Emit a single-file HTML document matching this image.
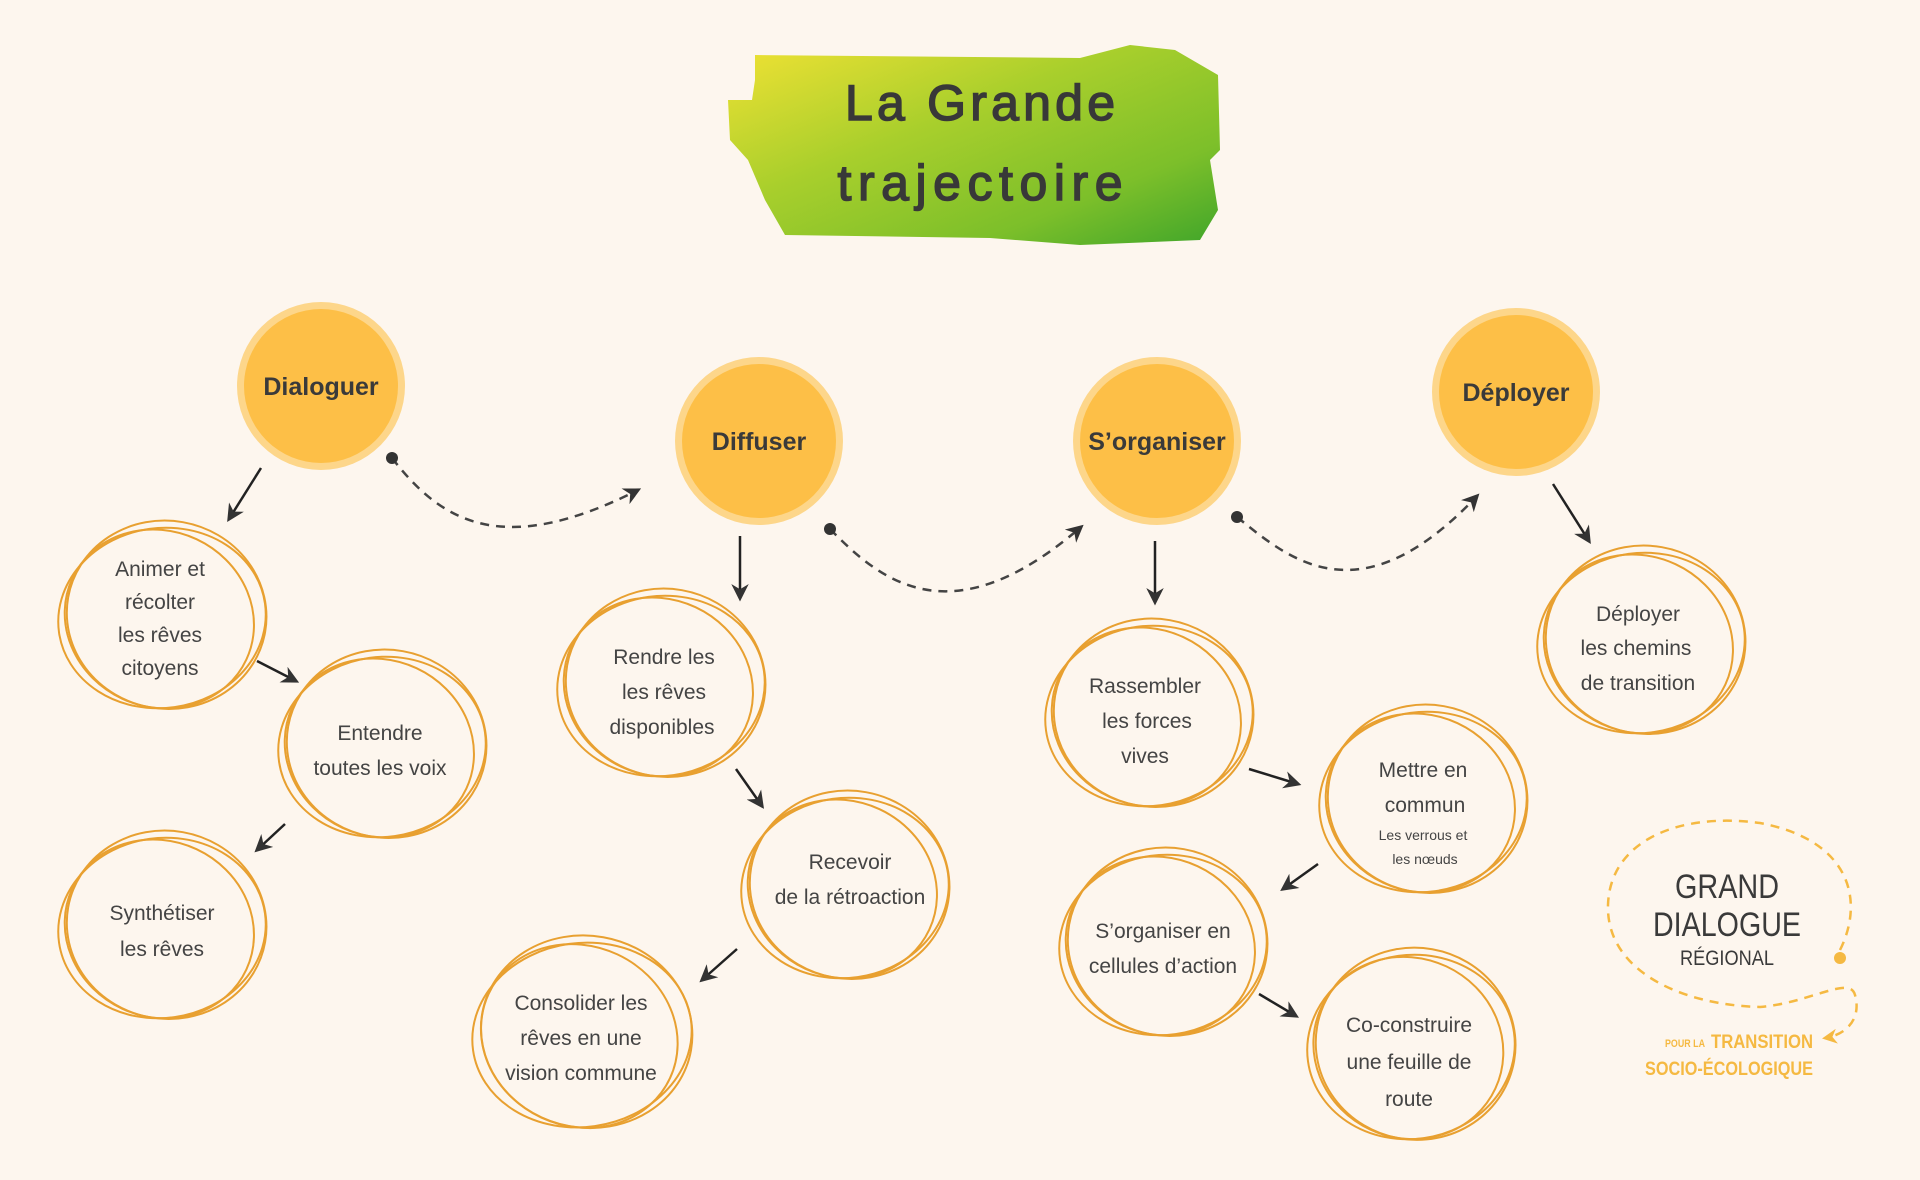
<!DOCTYPE html>
<html><head><meta charset="utf-8"><style>
html,body{margin:0;padding:0;background:#fdf6ee;}
svg{display:block}
text{font-family:"Liberation Sans",sans-serif;}
</style></head><body>
<svg width="1920" height="1180" viewBox="0 0 1920 1180" xmlns="http://www.w3.org/2000/svg">
<defs>
<linearGradient id="g" x1="0" y1="0" x2="1" y2="1">
<stop offset="0" stop-color="#f2e234"/><stop offset="0.4" stop-color="#a9cf2c"/><stop offset="0.75" stop-color="#7cbf2a"/><stop offset="1" stop-color="#3fa52a"/></linearGradient>
<marker id="ah" viewBox="0 0 10 10" refX="8" refY="5" markerWidth="7" markerHeight="7" orient="auto"><path d="M0,0 L10,5 L0,10 L3,5 z" fill="#333"/></marker>
<marker id="oa" viewBox="0 0 10 10" refX="8" refY="5" markerWidth="6" markerHeight="6" orient="auto"><path d="M0,0 L10,5 L0,10 L3,5 z" fill="#f5b942"/></marker>
</defs>
<rect width="1920" height="1180" fill="#fdf6ee"/>
<path d="M755,55 L1080,58 L1130,45 L1175,50 L1218,75 L1220,150 L1210,160 L1218,210 L1200,240 L1080,245 L990,238 L785,235 L765,200 L748,160 L730,140 L728,100 L752,100 L755,80 Z" fill="url(#g)"/>
<text x="980" y="120" text-anchor="middle" font-size="50" fill="#383838" stroke="#383838" stroke-width="1.5" textLength="270">La Grande</text>
<text x="980" y="200" text-anchor="middle" font-size="50" fill="#383838" stroke="#383838" stroke-width="1.5" textLength="285">trajectoire</text>

<g font-weight="bold" font-size="25" fill="#3a3a3a" text-anchor="middle">
<circle cx="321" cy="386" r="84" fill="#fdd68a"/><circle cx="321" cy="386" r="77" fill="#fdbf47"/><text x="321" y="395">Dialoguer</text>
<circle cx="759" cy="441" r="84" fill="#fdd68a"/><circle cx="759" cy="441" r="77" fill="#fdbf47"/><text x="759" y="450">Diffuser</text>
<circle cx="1157" cy="441" r="84" fill="#fdd68a"/><circle cx="1157" cy="441" r="77" fill="#fdbf47"/><text x="1157" y="450">S’organiser</text>
<circle cx="1516" cy="392" r="84" fill="#fdd68a"/><circle cx="1516" cy="392" r="77" fill="#fdbf47"/><text x="1516" y="401">Déployer</text>
</g>

<g fill="none" stroke="#444" stroke-width="2.5" stroke-dasharray="9,7">
<path d="M392,458 C440,520 500,560 638,490" marker-end="url(#ah)"/>
<path d="M830,529 C880,580 950,640 1081,527" marker-end="url(#ah)"/>
<path d="M1237,517 C1290,560 1360,620 1477,496" marker-end="url(#ah)"/>
</g>
<g fill="#333"><circle cx="392" cy="458" r="6"/><circle cx="830" cy="529" r="6"/><circle cx="1237" cy="517" r="6"/></g>

<g fill="none" stroke="#e8a030" stroke-width="2">
<ellipse cx="162" cy="618" rx="104" ry="90" transform="rotate(-8 162 618)"/><ellipse cx="166" cy="614" rx="100" ry="94" transform="rotate(10 162 618)"/><ellipse cx="160" cy="620" rx="96" ry="88" transform="rotate(25 162 618)"/>
<ellipse cx="382" cy="747" rx="104" ry="90" transform="rotate(-8 382 747)"/><ellipse cx="386" cy="743" rx="100" ry="94" transform="rotate(10 382 747)"/><ellipse cx="380" cy="749" rx="96" ry="88" transform="rotate(25 382 747)"/>
<ellipse cx="162" cy="928" rx="104" ry="90" transform="rotate(-8 162 928)"/><ellipse cx="166" cy="924" rx="100" ry="94" transform="rotate(10 162 928)"/><ellipse cx="160" cy="930" rx="96" ry="88" transform="rotate(25 162 928)"/>
<ellipse cx="661" cy="686" rx="104" ry="90" transform="rotate(-8 661 686)"/><ellipse cx="665" cy="682" rx="100" ry="94" transform="rotate(10 661 686)"/><ellipse cx="659" cy="688" rx="96" ry="88" transform="rotate(25 661 686)"/>
<ellipse cx="845" cy="888" rx="104" ry="90" transform="rotate(-8 845 888)"/><ellipse cx="849" cy="884" rx="100" ry="94" transform="rotate(10 845 888)"/><ellipse cx="843" cy="890" rx="96" ry="88" transform="rotate(25 845 888)"/>
<ellipse cx="582" cy="1035" rx="110" ry="92" transform="rotate(-8 582 1035)"/><ellipse cx="586" cy="1031" rx="106" ry="96" transform="rotate(10 582 1035)"/><ellipse cx="580" cy="1037" rx="100" ry="90" transform="rotate(25 582 1035)"/>
<ellipse cx="1149" cy="716" rx="104" ry="90" transform="rotate(-8 1149 716)"/><ellipse cx="1153" cy="712" rx="100" ry="94" transform="rotate(10 1149 716)"/><ellipse cx="1147" cy="718" rx="96" ry="88" transform="rotate(25 1149 716)"/>
<ellipse cx="1423" cy="802" rx="104" ry="90" transform="rotate(-8 1423 802)"/><ellipse cx="1427" cy="798" rx="100" ry="94" transform="rotate(10 1423 802)"/><ellipse cx="1421" cy="804" rx="96" ry="88" transform="rotate(25 1423 802)"/>
<ellipse cx="1163" cy="945" rx="104" ry="90" transform="rotate(-8 1163 945)"/><ellipse cx="1167" cy="941" rx="100" ry="94" transform="rotate(10 1163 945)"/><ellipse cx="1161" cy="947" rx="96" ry="88" transform="rotate(25 1163 945)"/>
<ellipse cx="1411" cy="1047" rx="104" ry="92" transform="rotate(-8 1411 1047)"/><ellipse cx="1415" cy="1043" rx="100" ry="96" transform="rotate(10 1411 1047)"/><ellipse cx="1409" cy="1049" rx="96" ry="90" transform="rotate(25 1411 1047)"/>
<ellipse cx="1641" cy="643" rx="104" ry="90" transform="rotate(-8 1641 643)"/><ellipse cx="1645" cy="639" rx="100" ry="94" transform="rotate(10 1641 643)"/><ellipse cx="1639" cy="645" rx="96" ry="88" transform="rotate(25 1641 643)"/>
</g>

<g stroke="#222" stroke-width="2.5" fill="none" marker-end="url(#ah)">
<line x1="261" y1="468" x2="229" y2="519"/>
<line x1="257" y1="661" x2="296" y2="681"/>
<line x1="285" y1="824" x2="257" y2="850"/>
<line x1="740" y1="536" x2="740" y2="598"/>
<line x1="736" y1="769" x2="762" y2="806"/>
<line x1="737" y1="949" x2="702" y2="980"/>
<line x1="1155" y1="541" x2="1155" y2="602"/>
<line x1="1249" y1="769" x2="1298" y2="784"/>
<line x1="1318" y1="864" x2="1283" y2="889"/>
<line x1="1259" y1="994" x2="1296" y2="1016"/>
<line x1="1553" y1="484" x2="1589" y2="541"/>
</g>

<g font-size="21" fill="#444" text-anchor="middle">
<text x="160" y="576">Animer et</text><text x="160" y="609">récolter</text><text x="160" y="642">les rêves</text><text x="160" y="675">citoyens</text>
<text x="380" y="740">Entendre</text><text x="380" y="775">toutes les voix</text>
<text x="162" y="920">Synthétiser</text><text x="162" y="956">les rêves</text>
<text x="664" y="664">Rendre les</text><text x="664" y="699">les rêves</text><text x="662" y="734">disponibles</text>
<text x="850" y="869">Recevoir</text><text x="850" y="904">de la rétroaction</text>
<text x="581" y="1010">Consolider les</text><text x="581" y="1045">rêves en une</text><text x="581" y="1080">vision commune</text>
<text x="1145" y="693">Rassembler</text><text x="1147" y="728">les forces</text><text x="1145" y="763">vives</text>
<text x="1423" y="777">Mettre en</text><text x="1425" y="812">commun</text>
<text x="1423" y="840" font-size="14">Les verrous et</text><text x="1425" y="864" font-size="14">les nœuds</text>
<text x="1163" y="938">S’organiser en</text><text x="1163" y="973">cellules d’action</text>
<text x="1409" y="1032">Co-construire</text><text x="1409" y="1069">une feuille de</text><text x="1409" y="1106">route</text>
<text x="1638" y="621">Déployer</text><text x="1636" y="655">les chemins</text><text x="1638" y="690">de transition</text>
</g>

<g fill="none" stroke="#f5b942" stroke-width="2.5" stroke-dasharray="9,7">
<path d="M1840,950 C1865,900 1850,840 1760,823 C1680,812 1610,840 1608,905 C1606,970 1680,1005 1760,1007 C1810,1003 1850,975 1855,995 C1862,1020 1845,1035 1825,1038" marker-end="url(#oa)"/>
</g>
<circle cx="1840" cy="958" r="6" fill="#f5b942"/>
<g text-anchor="middle" fill="#3a3a3a">
<text x="1727" y="898" font-size="34" textLength="104" lengthAdjust="spacingAndGlyphs">GRAND</text>
<text x="1727" y="936" font-size="34" textLength="148" lengthAdjust="spacingAndGlyphs">DIALOGUE</text>
<text x="1727" y="965" font-size="21" textLength="94" lengthAdjust="spacingAndGlyphs">RÉGIONAL</text>
</g>
<g fill="#f5b942" font-weight="bold">
<text x="1665" y="1047" font-size="11" textLength="40" lengthAdjust="spacingAndGlyphs">POUR LA</text>
<text x="1711" y="1048" font-size="19" textLength="102" lengthAdjust="spacingAndGlyphs">TRANSITION</text>
<text x="1645" y="1075" font-size="19" textLength="168" lengthAdjust="spacingAndGlyphs">SOCIO-ÉCOLOGIQUE</text>
</g>
</svg>
</body></html>
